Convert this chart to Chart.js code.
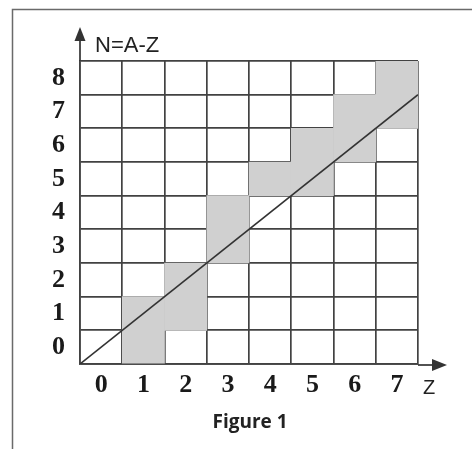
<!DOCTYPE html>
<html>
<head>
<meta charset="utf-8">
<script src="https://cdn.jsdelivr.net/npm/chart.js@4"></script>
<style>
html,body{margin:0;padding:0;background:#fff;}
canvas{display:block;}
</style>
</head>
<body>
<canvas id="c" width="472" height="449"></canvas>
<script>
// ---- data ----
const xLabels = ['0','1','2','3','4','5','6','7'];
const yLabels = ['0','1','2','3','4','5','6','7','8'];
const shadeCols = [1, 2, 3, 4, 5, 6, 7];
const shadeLow  = [0, 1, 3, 5, 5, 6, 7];
const shadeHigh = [2, 3, 5, 6, 7, 8, 9];
const diagX = [0, 8];
const diagY = [0, 8];
const yTitle = 'N=A-Z';
const xTitle = 'Z';
const caption = 'Figure 1';

const nCols = xLabels.length;
const nRows = yLabels.length;
const gridColor = '#424242';
const gridW = 1.7;

const barData = shadeCols.map((c, i) => ({ x: c + 0.5, y: [shadeLow[i], shadeHigh[i]] }));
const lineData = diagX.map((x, i) => ({ x: x, y: diagY[i] }));

const decor = {
  id: 'decor',
  afterDraw(chart) {
    const ctx = chart.ctx;
    const a = chart.chartArea;
    ctx.save();
    // frame
    ctx.strokeStyle = '#6a6a6a';
    ctx.lineWidth = 1.5;
    ctx.beginPath();
    ctx.moveTo(12.5, 449);
    ctx.lineTo(12.5, 9.5);
    ctx.lineTo(472, 9.5);
    ctx.stroke();
    // axis arrows
    ctx.strokeStyle = '#333';
    ctx.fillStyle = '#333';
    ctx.lineWidth = 1.7;
    ctx.beginPath();
    ctx.moveTo(a.left, a.top);
    ctx.lineTo(a.left, 38);
    ctx.stroke();
    ctx.beginPath();
    ctx.moveTo(a.left, 27);
    ctx.lineTo(a.left - 5.5, 41);
    ctx.lineTo(a.left + 5.5, 41);
    ctx.closePath();
    ctx.fill();
    const yb = a.bottom + 1;
    ctx.beginPath();
    ctx.moveTo(a.right, yb);
    ctx.lineTo(436, yb);
    ctx.stroke();
    ctx.beginPath();
    ctx.moveTo(447, yb);
    ctx.lineTo(432, yb - 6);
    ctx.lineTo(432, yb + 6);
    ctx.closePath();
    ctx.fill();
    // texts
    ctx.fillStyle = '#222';
    ctx.textBaseline = 'alphabetic';
    ctx.textAlign = 'left';
    ctx.font = '22px "Liberation Sans", Arial, sans-serif';
    ctx.fillText(yTitle, 95, 52);
    ctx.font = '20px "Liberation Sans", Arial, sans-serif';
    ctx.fillText(xTitle, 423, 394);
    ctx.textAlign = 'center';
    ctx.font = 'bold 19px "Open Sans", "Liberation Sans", sans-serif';
    ctx.fillText(caption, 250, 428);
    ctx.restore();
  }
};

new Chart(document.getElementById('c'), {
  type: 'bar',
  data: {
    datasets: [
      {
        type: 'bar',
        order: 2,
        data: barData,
        xAxisID: 'x',
        yAxisID: 'y',
        backgroundColor: '#d0d0d0',
        borderWidth: 0,
        barPercentage: 1,
        categoryPercentage: 1,
        grouped: false
      },
      {
        type: 'line',
        order: 1,
        data: lineData,
        xAxisID: 'x',
        yAxisID: 'y',
        borderColor: '#333',
        borderWidth: 1.6,
        pointRadius: 0,
        fill: false,
        tension: 0
      }
    ]
  },
  options: {
    responsive: false,
    animation: false,
    devicePixelRatio: 1,
    layout: { padding: { left: 0, right: 54, top: 61, bottom: 0 } },
    plugins: { legend: { display: false }, tooltip: { enabled: false }, title: { display: false } },
    scales: {
      x: {
        type: 'linear', position: 'bottom', min: 0, max: nCols, offset: false, z: 1,
        afterBuildTicks: s => { s.ticks = Array.from({ length: nCols + 1 }, (_, i) => ({ value: i })); },
        afterFit: s => { s.height = 0; },
        grid: { display: true, offset: false, color: gridColor, lineWidth: gridW, drawTicks: false },
        border: { display: true, color: gridColor, width: gridW },
        ticks: { display: false }
      },
      xl: {
        type: 'linear', position: 'bottom', min: 0, max: nCols, offset: false,
        afterBuildTicks: s => { s.ticks = xLabels.map((_, i) => ({ value: i + 0.5 })); },
        afterFit: s => { s.height = 85; },
        grid: { display: false, offset: false, drawTicks: false },
        border: { display: false },
        ticks: {
          autoSkip: false, maxRotation: 0, padding: 6, color: '#1a1a1a',
          font: { family: '"Liberation Serif", "Times New Roman", serif', size: 26, weight: 'bold' },
          callback: v => xLabels[Math.round(v - 0.5)]
        }
      },
      y: {
        type: 'linear', position: 'left', min: 0, max: nRows, offset: false, z: 1,
        afterBuildTicks: s => { s.ticks = Array.from({ length: nRows + 1 }, (_, i) => ({ value: i })); },
        afterFit: s => { s.width = 0; },
        grid: { display: true, offset: false, color: gridColor, lineWidth: gridW, drawTicks: false },
        border: { display: true, color: gridColor, width: gridW },
        ticks: { display: false }
      },
      yl: {
        type: 'linear', position: 'left', min: 0, max: nRows, offset: false,
        afterBuildTicks: s => { s.ticks = yLabels.map((_, i) => ({ value: i + 0.5 })); },
        afterFit: s => { s.width = 80; },
        grid: { display: false, offset: false, drawTicks: false },
        border: { display: false },
        ticks: {
          autoSkip: false, padding: 15, color: '#1a1a1a',
          font: { family: '"Liberation Serif", "Times New Roman", serif', size: 26, weight: 'bold' },
          callback: v => yLabels[Math.round(v - 0.5)]
        }
      }
    }
  },
  plugins: [decor]
});
</script>
</body>
</html>
